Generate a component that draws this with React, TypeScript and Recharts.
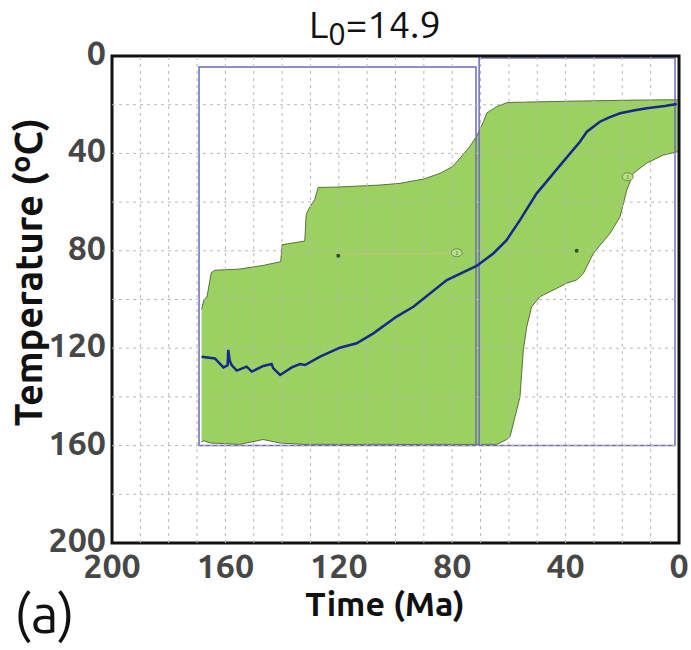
import React from "react";
import {
  ComposedChart,
  Area,
  Line,
  XAxis,
  YAxis,
  ReferenceLine,
  ReferenceArea,
  ReferenceDot,
  Customized,
} from "recharts";

// thermal history envelope (Ma, upper/lower temperature in °C)
const envelopeTime = [
  168.4, 167.5, 166.5, 165, 163.7, 155, 146.7, 140.5, 140, 132, 131.5, 130.2, 128.5, 127.3,
  120, 105.5, 98.4, 90, 84.3, 80, 77.2, 74, 71.4, 69, 67.8, 64.3, 62.5, 60.8, 59.6, 57.8,
  56.1, 54.9, 53.7, 52, 49, 44.3, 39.6, 36.1, 33.7, 30.2, 24.3, 20.8, 18.4, 16.1, 11.4, 5.6, 0.5,
];
const envelopeTop = [
  104, 100, 99, 89, 88, 87.5, 86, 84.5, 77.5, 76, 65, 62, 59, 54,
  53.8, 53, 52.3, 50.5, 48.2, 45.5, 41.9, 37.5, 33, 27, 23.4, 20.8, 20, 19.2, 19.1, 19,
  19, 19, 18.9, 18.9, 18.8, 18.7, 18.6, 18.5, 18.5, 18.4, 18.3, 18.2, 18.2, 18.1, 18.1, 18, 18,
];
const envelopeBottom = [
  158.5, 158, 158.5, 159, 159, 159.5, 157.5, 159, 159, 159.5, 159.5, 159.5, 159.5, 159.5,
  159.5, 159.5, 159.5, 159.5, 159.5, 159.5, 159.5, 159.5, 159.5, 159.5, 159.5, 159.5, 158.5, 157.5, 156.3, 148,
  140, 120.7, 111.2, 103, 98.8, 96.1, 93.3, 92, 89.2, 81, 72.8, 66, 55, 48.2, 44, 40.7, 39.3,
];

// best-fit path
const pathTime = [
  168.4, 163.7, 160.7, 159.2, 159, 158.5, 157.8, 156, 152.5, 150.7, 146.6, 143.7, 143.1, 140.7,
  136.6, 133.7, 131.9, 126.6, 119.6, 113.7, 107.8, 99.6, 93.7, 81.9, 71.4, 65.4, 60.8, 56.1,
  50.2, 47, 44.3, 38.4, 35, 32.5, 27.9, 25, 20.8, 16, 11.4, 5, 0.8,
];
const pathTemp = [
  123.5, 124.2, 127.9, 127, 120.7, 125, 126.9, 129.2, 127.6, 129.6, 127.3, 126.5, 128.3, 131,
  127.9, 126.5, 126.9, 123.5, 119.8, 118, 113.9, 107, 103, 92, 86.2, 81, 75.6, 67.4,
  56.4, 52, 48.2, 40, 35.3, 31.1, 27, 25.4, 23.5, 22.4, 21.5, 20.5, 19.7,
];

// constraint boxes: [start Ma, end Ma, min T, max T]
const boxStart = [169.3, 70.5];
const boxEnd = [71.6, 1.4];
const boxTop = [4.5, 0.8];
const boxBottom = [160, 160];

// constraint markers
const markerTime = [120.2, 36.1];
const markerTemp = [82, 80];
const labelTime = [78.4, 18.1];
const labelTemp = [80.8, 49.6];
const linkTime = [120.2, 78.4];
const linkTemp = [81.5, 81];

const xTicks = [200, 160, 120, 80, 40, 0];
const yTicks = [0, 40, 80, 120, 160, 200];
const gridTimes = [10, 20, 30, 40, 50, 60, 70, 80, 90, 100, 110, 120, 130, 140, 150, 160, 170, 180, 190];
const gridTemps = [20, 40, 60, 80, 100, 120, 140, 160, 180];

const envelopeData = envelopeTime.map((t, i) => ({
  time: t,
  range: [envelopeTop[i], envelopeBottom[i]],
}));
const pathData = pathTime.map((t, i) => ({ time: t, temp: pathTemp[i] }));
const linkData = linkTime.map((t, i) => ({ time: t, temp: linkTemp[i] }));

const FONT = "Ubuntu, 'Open Sans', sans-serif";

const Texts = () => (
  <g fontFamily={FONT}>
    <text x={309} y={38} fontSize={38} fill="#111">
      L<tspan fontSize={31} dy={7}>0</tspan>
      <tspan dy={-7}>=14.9</tspan>
    </text>
    <text
      x={28}
      y={272}
      fontSize={38}
      fontWeight={700}
      fill="#111"
      textAnchor="middle"
      dominantBaseline="central"
      transform="rotate(-90 28 272)"
    >
      Temperature (ºC)
    </text>
    <text x={385} y={616} fontSize={34} fontWeight={700} fill="#111" textAnchor="middle">
      Time (Ma)
    </text>
    <text x={14} y={633} fontSize={54} fill="#111">
      (a)
    </text>
  </g>
);

export default function App() {
  return (
    <div style={{ position: "absolute", left: 0, top: 0, background: "#fff" }}>
      <ComposedChart
        width={691}
        height={650}
        margin={{ top: 56, right: 12, bottom: 67, left: 0 }}
      >
        <XAxis
          type="number"
          dataKey="time"
          domain={[0, 200]}
          reversed
          ticks={xTicks}
          allowDataOverflow
          axisLine={false}
          tickLine={false}
          tickSize={0}
          tickMargin={11}
          height={40}
          tick={{ fontSize: 34, fontWeight: 700, fill: "#474747", fontFamily: FONT }}
        />
        <YAxis
          type="number"
          domain={[0, 200]}
          reversed
          ticks={yTicks}
          allowDataOverflow
          axisLine={false}
          tickLine={false}
          tickSize={0}
          tickMargin={6}
          width={112}
          tick={{ fontSize: 34, fontWeight: 700, fill: "#474747", fontFamily: FONT, dy: -3 }}
        />
        {gridTimes.map((t) => (
          <ReferenceLine key={`gx${t}`} x={t} stroke="#b8b8b8" strokeDasharray="3 4" strokeWidth={1} />
        ))}
        {gridTemps.map((v) => (
          <ReferenceLine key={`gy${v}`} y={v} stroke="#b8b8b8" strokeDasharray="3 4" strokeWidth={1} />
        ))}
        <Area
          data={envelopeData}
          dataKey="range"
          type="linear"
          fill="#9ad161"
          fillOpacity={1}
          stroke="#5d6f3c"
          strokeWidth={1}
          isAnimationActive={false}
          dot={false}
          activeDot={false}
        />
        <Line
          data={linkData}
          dataKey="temp"
          type="linear"
          stroke="#e3c47a"
          strokeOpacity={0.35}
          strokeWidth={2}
          dot={false}
          activeDot={false}
          isAnimationActive={false}
        />
        {boxStart.map((s, i) => (
          <ReferenceArea
            key={`box${i}`}
            x1={s}
            x2={boxEnd[i]}
            y1={boxTop[i]}
            y2={boxBottom[i]}
            fill="none"
            stroke="#6c6cb8"
            strokeWidth={1.5}
          />
        ))}
        <Line
          data={pathData}
          dataKey="temp"
          type="linear"
          stroke="#14298a"
          strokeWidth={2.5}
          dot={false}
          activeDot={false}
          isAnimationActive={false}
        />
        {markerTime.map((t, i) => (
          <ReferenceDot key={`m${i}`} x={t} y={markerTemp[i]} r={2} fill="#3a4a2a" stroke="none" />
        ))}
        {labelTime.map((t, i) => (
          <ReferenceDot
            key={`l${i}`}
            x={t}
            y={labelTemp[i]}
            shape={(p: any) => (
              <g>
                <ellipse cx={p.cx} cy={p.cy} rx={5.5} ry={4} fill="#b8e08a" stroke="#6f8a40" strokeWidth={1} />
                <text x={p.cx} y={p.cy + 2.5} fontSize={7} textAnchor="middle" fill="#4c6a2a">1</text>
              </g>
            )}
          />
        ))}
        <ReferenceArea
          x1={200}
          x2={0}
          y1={0}
          y2={200}
          fill="none"
          stroke="#111"
          strokeWidth={3}
        />
        <Customized component={<Texts />} />
      </ComposedChart>
    </div>
  );
}
